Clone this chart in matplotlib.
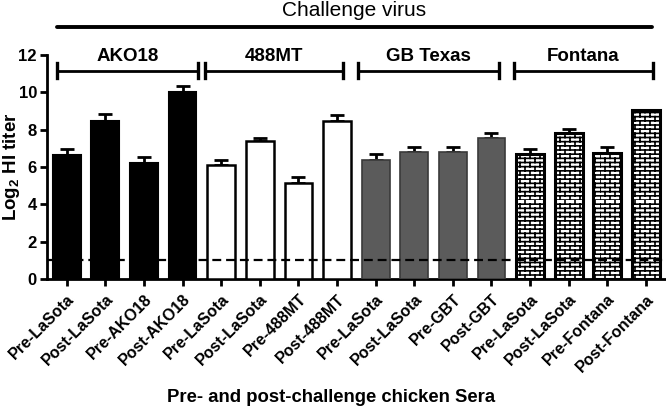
# HI titers of pre- and post-challenge sera against four challenge viruses

import numpy as np
import matplotlib
matplotlib.use('Agg')
import matplotlib.pyplot as plt
import matplotlib.hatch as mhatch
from matplotlib.path import Path

sera = ['Pre-LaSota', 'Post-LaSota', 'Pre-AKO18', 'Post-AKO18',
        'Pre-LaSota', 'Post-LaSota', 'Pre-488MT', 'Post-488MT',
        'Pre-LaSota', 'Post-LaSota', 'Pre-GBT', 'Post-GBT',
        'Pre-LaSota', 'Post-LaSota', 'Pre-Fontana', 'Post-Fontana']
viruses = ['AKO18', '488MT', 'GB Texas', 'Fontana']
titer = [6.63, 8.46, 6.24, 10.04,
         6.13, 7.38, 5.12, 8.49,
         6.36, 6.81, 6.81, 7.58,
         6.70, 7.81, 6.74, 9.05]
sem = [0.31, 0.37, 0.30, 0.32,
       0.27, 0.16, 0.33, 0.31,
       0.34, 0.27, 0.27, 0.25,
       0.24, 0.22, 0.34, 0.0]
cutoff = 1


# brick hatch (replaces the built-in hatch types, drawn with '-')
class BrickHatch(mhatch.HatchPatternBase):
    def __init__(self, hatch, density):
        self.rows = hatch.count('-') * density
        self.cols = int(self.rows * 0.42)
        self.num_vertices = (self.rows + self.rows * self.cols) * 2 if self.rows else 0

    def set_vertices_and_codes(self, vertices, codes):
        segs = []
        for i in range(self.rows):
            y0 = i / self.rows
            y1 = (i + 1) / self.rows
            segs.append(((0, y0), (1, y0)))
            off = 0.5 * (i % 2) / self.cols
            for j in range(self.cols):
                xx = j / self.cols + off
                segs.append(((xx, y0), (xx, y1)))
        vertices[:] = np.array(segs).reshape(-1, 2)
        codes[0::2] = Path.MOVETO
        codes[1::2] = Path.LINETO


mhatch._hatch_types[:] = [BrickHatch]

plt.rcParams['font.family'] = ['Liberation Sans', 'DejaVu Sans']
plt.rcParams['mathtext.fontset'] = 'custom'
plt.rcParams['mathtext.bf'] = 'Liberation Sans:bold'
plt.rcParams['mathtext.rm'] = 'Liberation Sans:bold'
plt.rcParams['mathtext.default'] = 'bf'
plt.rcParams['hatch.linewidth'] = 1.2

fig = plt.figure(figsize=(6.66, 4.09), dpi=100)
ax = fig.add_axes([0.0701, 0.3178, 0.9299, 0.5477])

x = np.arange(len(sera))
styles = [dict(color='black', edgecolor='black', linewidth=1.5),
          dict(color='white', edgecolor='black', linewidth=1.8),
          dict(color='#5b5b5b', edgecolor='#3a3a3a', linewidth=1.2),
          dict(color='white', edgecolor='black', linewidth=2.2, hatch='----')]
for g in range(4):
    sl = slice(g * 4, g * 4 + 4)
    ax.bar(x[sl], titer[sl], width=0.72, zorder=3, **styles[g])

ax.errorbar(x, titer, yerr=[np.zeros(len(sem)), sem], fmt='none', ecolor='black',
            elinewidth=2, capsize=5, capthick=2, zorder=2)

ax.axhline(cutoff, color='black', ls=(0, (4, 2.2)), lw=1.6, zorder=4)

ax.set_xlim(-0.52, 15.52)
ax.set_ylim(0, 12)
ax.set_yticks([0, 2, 4, 6, 8, 10, 12])
ax.set_xticks(x)
ax.set_xticklabels(sera, rotation=45, ha='right', rotation_mode='anchor',
                   fontsize=11.5, fontweight='bold')
for lab in ax.get_yticklabels():
    lab.set_fontweight('bold')
    lab.set_fontsize(12)
ax.tick_params(axis='both', width=2, length=5, direction='out', pad=2)
ax.tick_params(axis='x', pad=4)
for s in ['top', 'right']:
    ax.spines[s].set_visible(False)
for s in ['left', 'bottom']:
    ax.spines[s].set_linewidth(2)

ax.set_ylabel('Log$_2$ HI titer', fontsize=13.5, fontweight='bold')
ax.yaxis.set_label_coords(-0.040, 0.5)
ax.set_xlabel('Pre- and post-challenge chicken Sera', fontsize=13.3, fontweight='bold')
ax.xaxis.set_label_coords(0.459, -0.49)

# group brackets
spans = [(-0.25, 3.40), (3.58, 7.15), (7.54, 11.19), (11.58, 15.18)]
yb = 11.16
for (a, b), name in zip(spans, viruses):
    ax.plot([a, b], [yb, yb], color='black', lw=2, clip_on=False, solid_capstyle='butt')
    ax.plot([a, a], [yb - 0.4, yb + 0.4], color='black', lw=2.4, clip_on=False)
    ax.plot([b, b], [yb - 0.4, yb + 0.4], color='black', lw=2.4, clip_on=False)
    ax.text((a + b) / 2, 11.9, name, ha='center', va='center', fontsize=13.5,
            fontweight='bold')

ax.plot([-0.25, 15.16], [13.5, 13.5], color='black', lw=2.8, clip_on=False,
        solid_capstyle='round')
ax.text(7.45, 14.4, 'Challenge virus', ha='center', va='center', fontsize=15)

fig.savefig('out.png', dpi=100)
